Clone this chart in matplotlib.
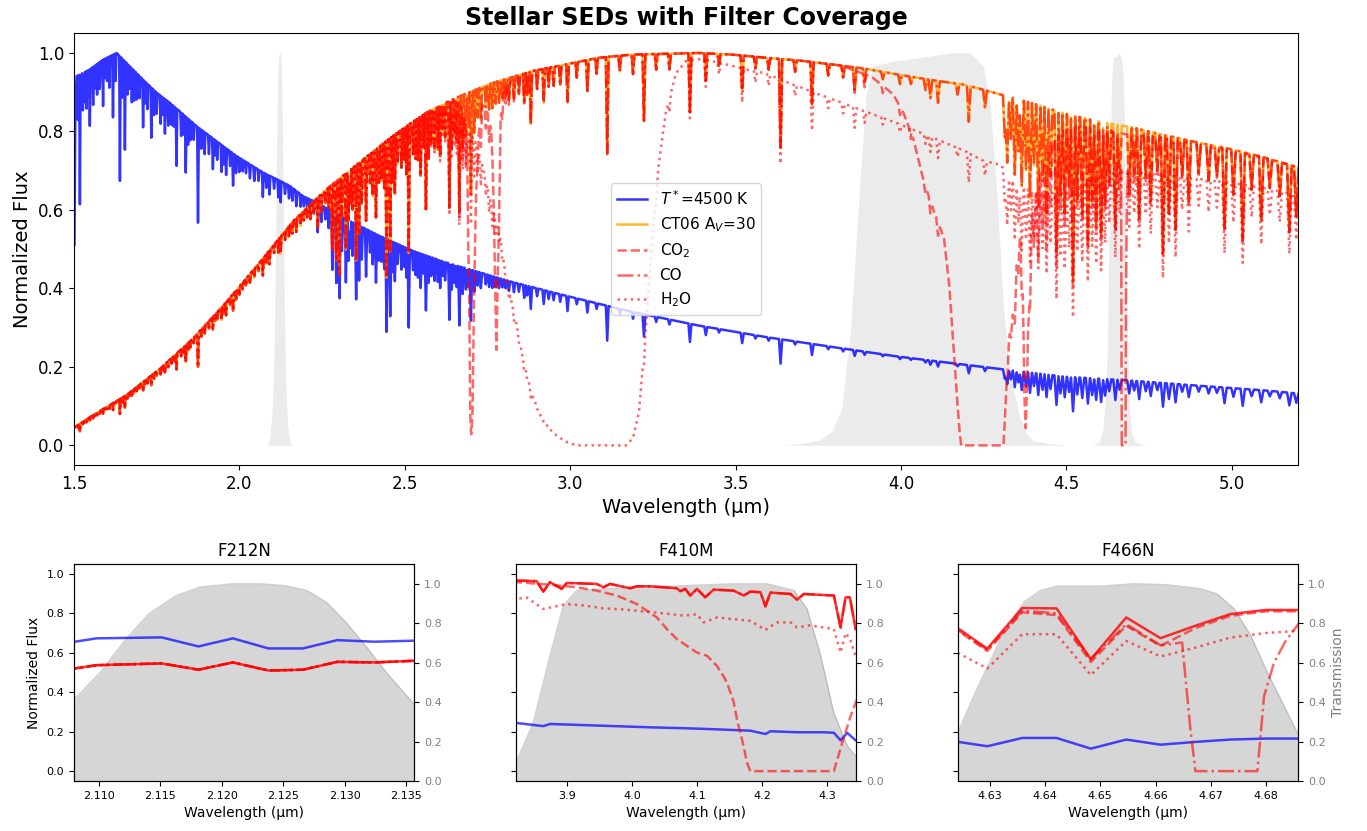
import numpy as np
import matplotlib.pyplot as plt
from matplotlib.ticker import FormatStrFormatter, MultipleLocator

# ---------------- main panel data ----------------
# upper envelope of the 4500 K photosphere, normalised
blue_wl = [1.5015, 1.5045, 1.508, 1.548, 1.588, 1.629, 1.669, 1.709, 1.750, 1.790,
           1.830, 1.870, 1.910, 1.951, 1.991, 2.031, 2.071, 2.112, 2.152, 2.192,
           2.232, 2.323, 2.423, 2.523, 2.624, 2.725, 2.825, 2.987, 3.187, 3.389,
           3.590, 3.790, 3.992, 4.294, 4.495, 4.696, 4.898, 5.099, 5.200]
blue_cont = [0.51, 0.88, 0.94, 0.957, 0.982, 0.999, 0.965, 0.931, 0.898, 0.872,
             0.843, 0.813, 0.788, 0.762, 0.737, 0.716, 0.695, 0.678, 0.661, 0.635,
             0.619, 0.576, 0.534, 0.496, 0.466, 0.441, 0.416, 0.381, 0.340, 0.305,
             0.276, 0.251, 0.226, 0.195, 0.175, 0.165, 0.152, 0.140, 0.132]

# upper envelope of the extincted (CT06, Av=30) spectrum
ext_wl = [1.500, 1.558, 1.659, 1.760, 1.860, 1.961, 2.061, 2.162, 2.263, 2.363,
          2.464, 2.564, 2.665, 2.765, 2.886, 2.987, 3.087, 3.188, 3.288, 3.389,
          3.490, 3.590, 3.691, 3.791, 3.892, 3.992, 4.093, 4.194, 4.294, 4.395,
          4.495, 4.596, 4.697, 4.797, 4.898, 4.998, 5.099, 5.200]
ext_cont = [0.045, 0.077, 0.128, 0.195, 0.272, 0.365, 0.465, 0.570, 0.652, 0.720,
            0.788, 0.847, 0.889, 0.923, 0.953, 0.970, 0.987, 0.995, 0.997, 0.999,
            0.995, 0.987, 0.980, 0.970, 0.959, 0.944, 0.930, 0.918, 0.895, 0.872,
            0.845, 0.825, 0.810, 0.790, 0.771, 0.754, 0.733, 0.708]

# stellar absorption lines (centre in um, fractional depth), one list per band
h_wl = [1.512, 1.518, 1.522, 1.527, 1.531,
        1.538, 1.543, 1.548, 1.558, 1.563,
        1.570, 1.578, 1.588, 1.594, 1.600,
        1.607, 1.618, 1.626, 1.639, 1.647,
        1.654, 1.662, 1.668, 1.675, 1.682,
        1.690, 1.698, 1.709, 1.715, 1.722,
        1.734, 1.742, 1.750, 1.762, 1.768,
        1.775, 1.785, 1.795, 1.802, 1.810,
        1.824, 1.832, 1.838, 1.845, 1.852,
        1.862, 1.875, 1.885, 1.895, 1.908,
        1.920, 1.927, 1.933, 1.946, 1.953,
        1.960, 1.972, 1.981, 1.990]
h_depth = [0.12, 0.35, 0.06, 0.10, 0.08,
           0.10, 0.07, 0.15, 0.10, 0.06,
           0.08, 0.07, 0.12, 0.05, 0.06,
           0.08, 0.16, 0.07, 0.32, 0.10,
           0.23, 0.08, 0.06, 0.09, 0.08,
           0.07, 0.06, 0.13, 0.06, 0.07,
           0.14, 0.07, 0.06, 0.08, 0.05,
           0.10, 0.07, 0.06, 0.06, 0.17,
           0.07, 0.06, 0.17, 0.08, 0.06,
           0.05, 0.30, 0.06, 0.07, 0.06,
           0.10, 0.05, 0.06, 0.09, 0.06,
           0.09, 0.05, 0.11, 0.06]

k_wl = [2.000, 2.010, 2.020, 2.032, 2.045,
        2.058, 2.071, 2.082, 2.091, 2.105,
        2.118, 2.1245, 2.138, 2.150, 2.160,
        2.172, 2.185, 2.195, 2.205, 2.215,
        2.225, 2.237, 2.248, 2.260, 2.270,
        2.281, 2.293, 2.303, 2.310, 2.322,
        2.330, 2.335, 2.342, 2.353, 2.362,
        2.370, 2.383, 2.395, 2.403, 2.413,
        2.422, 2.430, 2.438, 2.445, 2.456,
        2.463, 2.470, 2.478, 2.490]
k_depth = [0.05, 0.04, 0.04, 0.05, 0.05,
           0.04, 0.09, 0.05, 0.07, 0.04,
           0.065, 0.08, 0.04, 0.05, 0.05,
           0.06, 0.05, 0.04, 0.04, 0.06,
           0.05, 0.12, 0.07, 0.05, 0.08,
           0.25, 0.30, 0.36, 0.15, 0.28,
           0.18, 0.12, 0.15, 0.34, 0.25,
           0.15, 0.22, 0.10, 0.15, 0.23,
           0.12, 0.12, 0.15, 0.45, 0.37,
           0.15, 0.19, 0.10, 0.12]

l_wl = [2.498, 2.505, 2.512, 2.525, 2.533,
        2.540, 2.548, 2.557, 2.564, 2.572,
        2.580, 2.590, 2.600, 2.607, 2.615,
        2.622, 2.635, 2.642, 2.650, 2.657,
        2.665, 2.675, 2.685, 2.692, 2.700,
        2.710, 2.720, 2.730, 2.745, 2.755,
        2.765, 2.775, 2.785, 2.795, 2.805,
        2.815, 2.830, 2.845, 2.861, 2.870,
        2.881, 2.900, 2.920, 2.935, 2.950,
        2.970, 2.992, 3.020, 3.052, 3.080,
        3.112, 3.150, 3.190, 3.223, 3.260,
        3.300, 3.362, 3.410, 3.450, 3.520,
        3.560, 3.600, 3.636, 3.680, 3.731,
        3.780, 3.825, 3.860, 3.890, 3.945,
        3.997]
l_depth = [0.10, 0.15, 0.40, 0.10, 0.12,
           0.13, 0.18, 0.10, 0.29, 0.14,
           0.10, 0.12, 0.12, 0.15, 0.08,
           0.10, 0.31, 0.14, 0.10, 0.12,
           0.33, 0.15, 0.12, 0.10, 0.29,
           0.12, 0.08, 0.09, 0.06, 0.07,
           0.07, 0.06, 0.06, 0.05, 0.05,
           0.06, 0.06, 0.05, 0.08, 0.06,
           0.14, 0.05, 0.09, 0.05, 0.05,
           0.05, 0.10, 0.04, 0.08, 0.04,
           0.25, 0.04, 0.05, 0.17, 0.04,
           0.04, 0.15, 0.07, 0.03, 0.09,
           0.03, 0.03, 0.23, 0.03, 0.11,
           0.03, 0.03, 0.06, 0.035, 0.02,
           0.025]

m_wl = [4.030, 4.074, 4.089, 4.112, 4.171,
        4.205, 4.254, 4.314, 4.321, 4.332,
        4.344, 4.355, 4.365, 4.378, 4.390,
        4.402, 4.415, 4.428, 4.440, 4.452,
        4.470, 4.482, 4.495, 4.508, 4.520,
        4.533, 4.548, 4.565, 4.578, 4.590,
        4.605, 4.617, 4.6296, 4.648, 4.661,
        4.690, 4.705, 4.720, 4.740, 4.755,
        4.775, 4.792, 4.810, 4.830, 4.850,
        4.870, 4.900, 4.930, 4.955, 4.978,
        5.005, 5.033, 5.060, 5.089, 5.115,
        5.145, 5.174, 5.195]
m_depth = [0.02, 0.03, 0.05, 0.06, 0.03,
           0.10, 0.05, 0.12, 0.19, 0.12,
           0.22, 0.15, 0.25, 0.20, 0.28,
           0.18, 0.30, 0.22, 0.32, 0.20,
           0.42, 0.25, 0.30, 0.22, 0.50,
           0.25, 0.30, 0.38, 0.25, 0.32,
           0.35, 0.25, 0.18, 0.31, 0.15,
           0.20, 0.15, 0.28, 0.15, 0.22,
           0.12, 0.38, 0.25, 0.30, 0.12,
           0.20, 0.10, 0.12, 0.10, 0.27,
           0.15, 0.30, 0.12, 0.22, 0.10,
           0.12, 0.24, 0.18]

# ice transmission profiles applied on top of the extincted spectrum
co2_wl = [1.50, 2.65, 2.675, 2.688, 2.694, 2.698, 2.701, 2.705, 2.710, 2.720,
          2.735, 2.750, 2.765, 2.772, 2.777, 2.782, 2.790, 2.800, 2.850, 3.820,
          3.914, 3.976, 4.007, 4.038, 4.069, 4.100, 4.130, 4.146, 4.161, 4.177,
          4.182, 4.310, 4.319, 4.329, 4.339, 4.349, 4.362, 4.368, 4.373, 4.377,
          4.381, 4.388, 4.395, 4.415, 4.445, 4.480, 4.530, 4.600, 4.700, 4.800, 5.20]
co2_t = [1.0, 1.0, 0.96, 0.88, 0.50, 0.10, 0.04, 0.10, 0.50, 0.85,
         0.95, 0.93, 0.85, 0.50, 0.27, 0.50, 0.90, 0.98, 1.0, 1.0,
         0.98, 0.945, 0.90, 0.83, 0.72, 0.64, 0.57, 0.44, 0.24, 0.04,
         0.0, 0.0, 0.20, 0.34, 0.38, 0.52, 0.66, 0.50, 0.15, 0.06,
         0.20, 0.50, 0.67, 0.78, 0.87, 0.94, 0.97, 0.975, 0.975, 0.99, 1.0]

co_wl = [1.50, 4.60, 4.635, 4.660, 4.6655, 4.6665, 4.6675, 4.6788, 4.6801, 4.6820,
         4.6857, 4.690, 4.700, 5.20]
co_t = [1.0, 1.0, 0.98, 0.95, 0.90, 0.29, 0.0, 0.0, 0.46, 0.67,
        0.92, 0.98, 1.0, 1.0]

h2o_wl = [1.50, 2.55, 2.62, 2.66, 2.69, 2.715, 2.740, 2.765, 2.785, 2.806,
          2.837, 2.860, 2.885, 2.910, 2.936, 2.960, 2.988, 3.018, 3.170, 3.190,
          3.208, 3.229, 3.247, 3.268, 3.289, 3.320, 3.350, 3.400, 3.530, 3.590,
          3.660, 3.740, 3.810, 3.890, 3.980, 4.090, 4.250, 4.300, 4.340, 4.400,
          4.500, 4.550, 4.600, 4.650, 4.700, 4.900, 5.200]
h2o_t = [1.0, 1.0, 0.98, 0.95, 0.90, 0.85, 0.76, 0.65, 0.59, 0.46,
         0.33, 0.22, 0.135, 0.08, 0.045, 0.025, 0.01, 0.0, 0.0, 0.02,
         0.085, 0.30, 0.52, 0.72, 0.85, 0.95, 0.98, 0.985, 0.965, 0.96,
         0.94, 0.92, 0.905, 0.887, 0.87, 0.845, 0.80, 0.80, 0.76, 0.74,
         0.76, 0.80, 0.83, 0.85, 0.86, 0.88, 0.90]

# filter throughputs (normalised)
f212n_wl = [2.085, 2.092, 2.098, 2.102, 2.105, 2.1080, 2.1101, 2.1122, 2.1141, 2.1163,
            2.1182, 2.1209, 2.1231, 2.1252, 2.1269, 2.1285, 2.1301, 2.1317, 2.1334,
            2.1355, 2.1390, 2.1420, 2.1460, 2.1520, 2.1600]
f212n_t = [0.0, 0.02, 0.07, 0.15, 0.25, 0.415, 0.55, 0.72, 0.85, 0.94,
           0.983, 1.0, 1.0, 0.99, 0.966, 0.907, 0.805, 0.686, 0.55,
           0.40, 0.20, 0.12, 0.05, 0.015, 0.0]
f410m_wl = [3.650, 3.700, 3.751, 3.790, 3.8208, 3.8476, 3.8733, 3.8938, 3.9144, 3.976,
            4.079, 4.156, 4.207, 4.249, 4.269, 4.290, 4.310, 4.331, 4.344, 4.360,
            4.380, 4.400, 4.450, 4.500]
f410m_t = [0.0, 0.005, 0.012, 0.035, 0.093, 0.297, 0.636, 0.89, 0.966, 0.978,
           0.99, 1.0, 1.0, 0.966, 0.873, 0.636, 0.347, 0.178, 0.127, 0.07,
           0.03, 0.012, 0.004, 0.0]
f466n_wl = [4.580, 4.600, 4.610, 4.617, 4.6244, 4.6277, 4.6320, 4.6362, 4.6392, 4.6422,
            4.6500, 4.6560, 4.6621, 4.6681, 4.6711, 4.6742, 4.6772, 4.6802, 4.6832,
            4.6856, 4.690, 4.696, 4.705, 4.720, 4.740]
f466n_t = [0.0, 0.01, 0.04, 0.11, 0.254, 0.466, 0.72, 0.907, 0.966, 0.988,
           0.988, 1.0, 0.995, 0.975, 0.949, 0.873, 0.737, 0.55, 0.381,
           0.246, 0.10, 0.035, 0.012, 0.004, 0.0]

# ---------------- zoom panels ----------------
z212_wl = [2.1069, 2.1098, 2.1151, 2.1181, 2.1209, 2.1238, 2.1266, 2.1294, 2.1324, 2.1355, 2.1384]
z212_star = [0.645, 0.673, 0.678, 0.632, 0.673, 0.622, 0.622, 0.664, 0.656, 0.661, 0.662]
z212_ext = [0.510, 0.537, 0.546, 0.514, 0.551, 0.510, 0.514, 0.554, 0.551, 0.559, 0.560]

z410_wl = [3.8160, 3.8219, 3.8527, 3.8630, 3.8733, 3.8913, 3.8990, 3.9452, 3.9555, 3.9658,
           3.9967, 4.0069, 4.0275, 4.0686, 4.0738, 4.0815, 4.0892, 4.0995, 4.1123, 4.1252,
           4.1560, 4.1715, 4.1817, 4.1972, 4.2049, 4.2126, 4.2434, 4.2537, 4.2640, 4.3103,
           4.3206, 4.3283, 4.3350, 4.3437, 4.3500]
z410_ext = [0.968, 0.966, 0.963, 0.910, 0.958, 0.924, 0.954, 0.949, 0.932, 0.949,
            0.927, 0.937, 0.937, 0.927, 0.912, 0.924, 0.890, 0.924, 0.881, 0.920,
            0.915, 0.890, 0.910, 0.907, 0.835, 0.905, 0.898, 0.869, 0.898, 0.890,
            0.728, 0.881, 0.881, 0.720, 0.760]
z410_star_wl = [3.8160, 3.8219, 3.8630, 3.8733, 4.0275, 4.0738, 4.1123, 4.1817, 4.2049, 4.2126,
                4.2537, 4.2948, 4.3103, 4.3206, 4.3309, 4.3437, 4.3500]
z410_star = [0.246, 0.244, 0.228, 0.239, 0.222, 0.218, 0.214, 0.205, 0.188, 0.202,
             0.197, 0.197, 0.194, 0.156, 0.194, 0.156, 0.160]
z410_h2o_wl = [3.8160, 3.8219, 3.8375, 3.8630, 3.8990, 3.9247, 3.9555, 3.9864, 4.0069, 4.0480,
               4.0789, 4.0995, 4.1098, 4.1303, 4.1560, 4.1817, 4.2049, 4.2229, 4.2434, 4.2537,
               4.2743, 4.2846, 4.3103, 4.3206, 4.3283, 4.3350, 4.3437, 4.3500]
z410_h2o = [0.870, 0.873, 0.880, 0.822, 0.847, 0.840, 0.825, 0.820, 0.813, 0.800,
            0.788, 0.795, 0.754, 0.779, 0.770, 0.762, 0.716, 0.754, 0.754, 0.728,
            0.740, 0.733, 0.720, 0.601, 0.700, 0.670, 0.584, 0.600]
z410_co2_wl = [3.8160, 3.8219, 3.8733, 3.9144, 3.9452, 3.9761, 4.0069, 4.0378, 4.0532, 4.0686,
               4.0995, 4.1149, 4.1303, 4.1406, 4.1458, 4.1560, 4.1612, 4.1715, 4.1766, 4.1817,
               4.3103, 4.3231, 4.3360, 4.3437, 4.3500]
z410_co2 = [0.960, 0.958, 0.945, 0.932, 0.915, 0.890, 0.847, 0.779, 0.720, 0.669,
            0.601, 0.585, 0.533, 0.480, 0.448, 0.350, 0.261, 0.125, 0.041, 0.0,
            0.0, 0.143, 0.278, 0.346, 0.400]

z466_wl = [4.6232, 4.6296, 4.6359, 4.6421, 4.6483, 4.6547, 4.6609, 4.6672, 4.6735, 4.6799, 4.6862]
z466_star = [0.153, 0.126, 0.168, 0.168, 0.114, 0.160, 0.134, 0.148, 0.160, 0.165, 0.165]
z466_ext = [0.745, 0.621, 0.827, 0.825, 0.567, 0.779, 0.674, 0.737, 0.796, 0.817, 0.817]
z466_co2 = [0.733, 0.609, 0.805, 0.791, 0.553, 0.737, 0.635, 0.725, 0.787, 0.810, 0.810]
z466_h2o = [0.615, 0.520, 0.694, 0.694, 0.487, 0.660, 0.581, 0.626, 0.677, 0.700, 0.712]
z466_co_wl = [4.6232, 4.6296, 4.6359, 4.6421, 4.6483, 4.6547, 4.6609, 4.6648, 4.6663, 4.6672,
              4.6784, 4.6796, 4.6814, 4.6835, 4.6862]
z466_co = [0.735, 0.615, 0.813, 0.800, 0.567, 0.745, 0.638, 0.652, 0.210, 0.0,
           0.0, 0.380, 0.550, 0.660, 0.760]

R = 740.0  # resolving power of the model grid -> width of one line

line_wl = np.array(h_wl + k_wl + l_wl + m_wl)
line_depth = np.array(h_depth + k_depth + l_depth + m_depth)


def add_lines(grid, knots_wl, knots_fx):
    fx = np.interp(grid, knots_wl, knots_fx)
    for c, d in zip(line_wl, line_depth):
        hw = c / R
        prof = np.clip(1 - np.abs(grid - c) / hw, 0, None)
        fx = fx * (1 - d * prof)
    return fx


grid = np.unique(np.concatenate([blue_wl, ext_wl, line_wl - line_wl / R, line_wl,
                                 line_wl + line_wl / R, co2_wl, co_wl, h2o_wl]))
star = add_lines(grid, blue_wl, blue_cont)
ext = add_lines(grid, ext_wl, ext_cont)
sed_co2 = ext * np.interp(grid, co2_wl, co2_t)
sed_co = ext * np.interp(grid, co_wl, co_t)
sed_h2o = ext * np.interp(grid, h2o_wl, h2o_t)

fig = plt.figure(figsize=(13.67, 8.31), dpi=100)

ax = fig.add_axes([0.0541, 0.4404, 0.8954, 0.5199])
for fwl, ft in [(f212n_wl, f212n_t), (f410m_wl, f410m_t), (f466n_wl, f466n_t)]:
    ax.fill_between(fwl, 0, ft, color='lightgray', alpha=0.45, lw=0, zorder=0)

lw = 1.8
ax.plot(grid, star, color='blue', alpha=0.8, lw=lw, label=r'$T^*$=4500 K')
ax.plot(grid, ext, color='orange', alpha=0.8, lw=lw, label=r'CT06 A$_V$=30')
ax.plot(grid, sed_co2, color='red', alpha=0.6, lw=lw, ls='--', label=r'CO$_2$')
ax.plot(grid, sed_co, color='red', alpha=0.6, lw=lw, ls='-.', label='CO')
ax.plot(grid, sed_h2o, color='red', alpha=0.6, lw=lw, ls=':', label=r'H$_2$O')

ax.set_xlim(1.5, 5.2)
ax.set_ylim(-0.05, 1.05)
ax.tick_params(labelsize=12)
ax.set_xlabel('Wavelength (μm)', fontsize=14)
ax.set_ylabel('Normalized Flux', fontsize=14)
ax.set_title('Stellar SEDs with Filter Coverage', fontsize=17, fontweight='bold')
ax.legend(loc='center', fontsize=11)

# ---------------- zoom panels ----------------
panels = [
    dict(name='F212N', x0=0.0541, xlim=(2.10797, 2.13567), step=0.005, fmt='%.3f',
         fwl=f212n_wl, ft=f212n_t),
    dict(name='F410M', x0=0.3775, xlim=(3.821, 4.345), step=0.1, fmt='%.1f',
         fwl=f410m_wl, ft=f410m_t),
    dict(name='F466N', x0=0.7008, xlim=(4.6243, 4.6858), step=0.01, fmt='%.2f',
         fwl=f466n_wl, ft=f466n_t),
]

sub_axes = []
for i, p in enumerate(panels):
    a = fig.add_axes([p['x0'], 0.0602, 0.2490, 0.2611])
    t = a.twinx()
    t.fill_between(p['fwl'], 0, p['ft'], color='#d6d6d6', lw=0)
    t.plot(p['fwl'], p['ft'], color='gray', alpha=0.35, lw=1)
    t.set_ylim(0, 1.1)
    t.yaxis.set_major_locator(MultipleLocator(0.2))
    t.tick_params(labelsize=8, labelcolor='gray')
    a.set_zorder(t.get_zorder() + 1)
    a.patch.set_visible(False)
    a.set_xlim(*p['xlim'])
    a.set_ylim(-0.05, 1.05)
    a.xaxis.set_major_locator(MultipleLocator(p['step']))
    a.xaxis.set_major_formatter(FormatStrFormatter(p['fmt']))
    a.yaxis.set_major_locator(MultipleLocator(0.2))
    a.tick_params(labelsize=8)
    a.set_xlabel('Wavelength (μm)', fontsize=10)
    a.set_title(p['name'], fontsize=12)
    if i == 0:
        a.set_ylabel('Normalized Flux', fontsize=10)
    else:
        a.tick_params(axis='y', labelleft=False)
    if i == 2:
        t.set_ylabel('Transmission', fontsize=10, color='gray')
    sub_axes.append(a)

sl = 1.8
a1, a2, a3 = sub_axes
a1.plot(z212_wl, z212_star, color='blue', alpha=0.7, lw=sl)
a1.plot(z212_wl, z212_ext, color='red', alpha=0.8, lw=sl)
a1.plot(z212_wl, z212_ext, color='red', alpha=0.6, lw=sl, ls='--')
a1.plot(z212_wl, z212_ext, color='red', alpha=0.6, lw=sl, ls='-.')
a1.plot(z212_wl, z212_ext, color='red', alpha=0.6, lw=sl, ls=':')

a2.plot(z410_star_wl, z410_star, color='blue', alpha=0.7, lw=sl)
a2.plot(z410_wl, z410_ext, color='red', alpha=0.8, lw=sl)
a2.plot(z410_co2_wl, z410_co2, color='red', alpha=0.6, lw=sl, ls='--')
a2.plot(z410_wl, z410_ext, color='red', alpha=0.6, lw=sl, ls='-.')
a2.plot(z410_h2o_wl, z410_h2o, color='red', alpha=0.6, lw=sl, ls=':')

a3.plot(z466_wl, z466_star, color='blue', alpha=0.7, lw=sl)
a3.plot(z466_wl, z466_ext, color='red', alpha=0.8, lw=sl)
a3.plot(z466_wl, z466_co2, color='red', alpha=0.6, lw=sl, ls='--')
a3.plot(z466_co_wl, z466_co, color='red', alpha=0.6, lw=sl, ls='-.')
a3.plot(z466_wl, z466_h2o, color='red', alpha=0.6, lw=sl, ls=':')

fig.savefig('out.png', dpi=100)
